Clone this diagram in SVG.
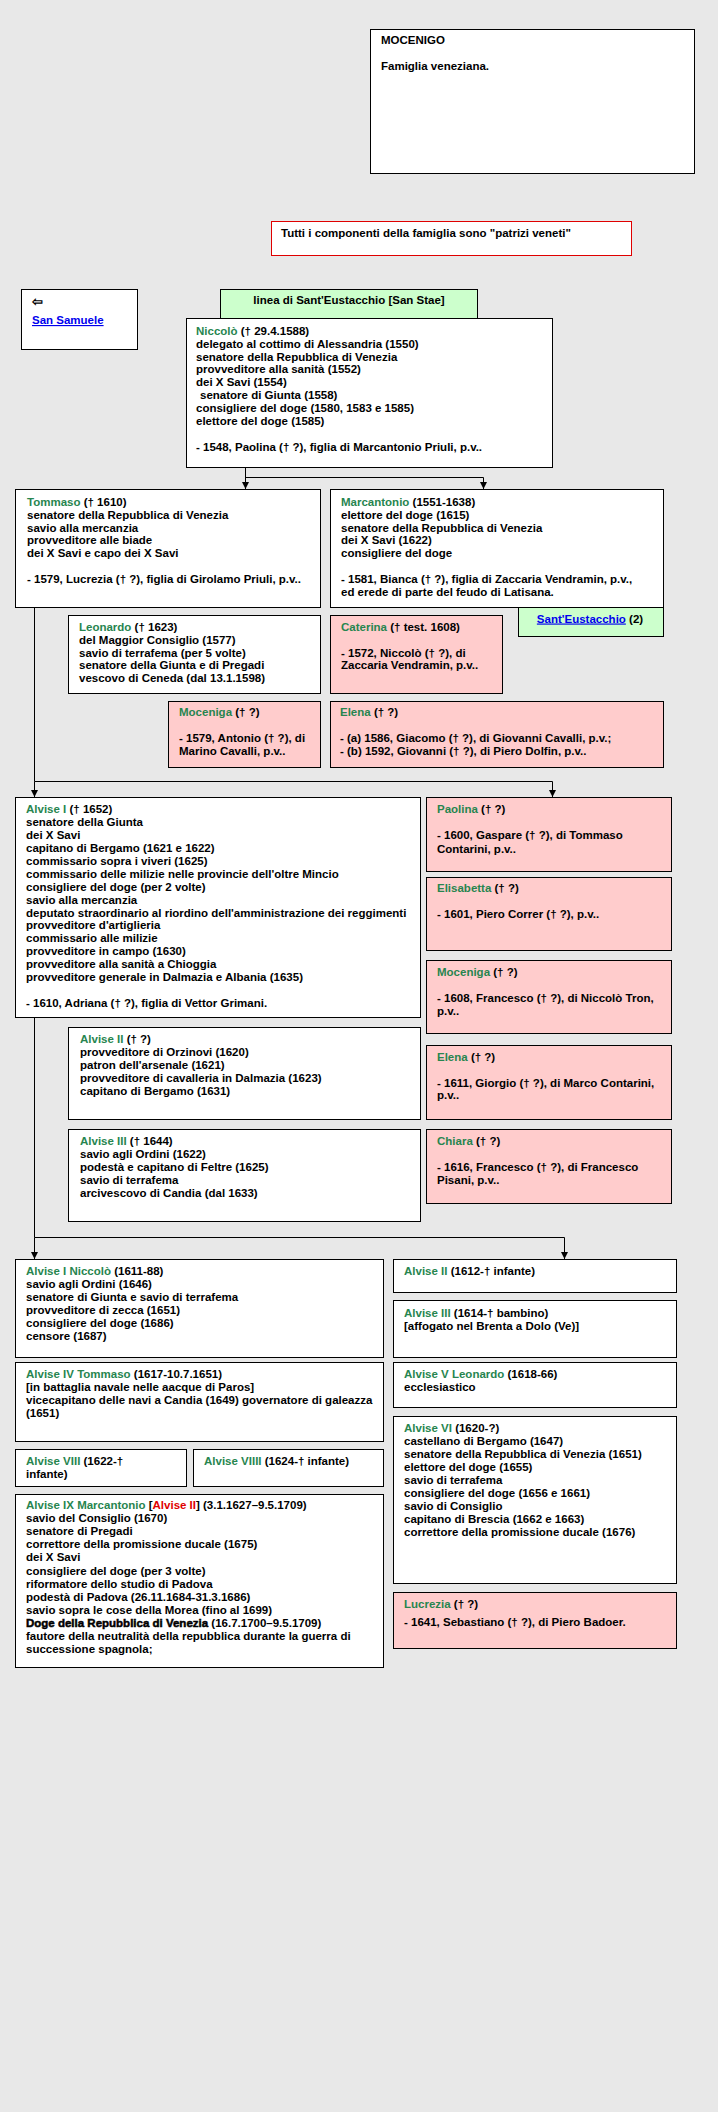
<svg xmlns="http://www.w3.org/2000/svg" width="718" height="2112" viewBox="0 0 718 2112">
<style>
.t{font-family:"Liberation Sans",Arial,sans-serif;font-weight:bold;font-size:11.5px;fill:#000}
.n{fill:#27854f}
.r{fill:#e00000}
.k{fill:#0000ee;text-decoration:underline}
.b{fill:#fff;stroke:#000;stroke-width:1}
.p{fill:#ffcccc;stroke:#000;stroke-width:1}
.g{fill:#ccffcc;stroke:#000;stroke-width:1}
.rb{fill:#fff;stroke:#e00000;stroke-width:1}
.c{fill:none;stroke:#000;stroke-width:1}
.a{fill:none;stroke:#000;stroke-width:1;marker-end:url(#ar)}
.hv{stroke:#000;stroke-width:0.5}
</style>
<defs>
<marker id="ar" viewBox="0 0 8 8" refX="8" refY="4" markerWidth="7" markerHeight="7" markerUnits="userSpaceOnUse" orient="auto">
<path d="M0,0 L8,4 L0,8 z" fill="#000"/>
</marker>
</defs>
<rect x="0" y="0" width="718" height="2112" fill="#e8e8e8"/>

<g id="connectors">
<path class="a" d="M245.5,467 V489"/>
<path class="c" d="M245.5,477.5 H483.5"/>
<path class="a" d="M483.5,477.5 V489"/>
<path class="c" d="M34.5,607 V781.5 H552.5"/>
<path class="a" d="M34.5,781.5 V797"/>
<path class="a" d="M552.5,781.5 V797"/>
<path class="c" d="M34.5,1017 V1237.5 H564.5"/>
<path class="a" d="M34.5,1237.5 V1259"/>
<path class="a" d="M564.5,1237.5 V1259"/>
</g>

<g id="mocenigo">
<rect class="b" x="370.5" y="29.5" width="324" height="144"/>
<text class="t" x="381" y="44">MOCENIGO</text>
<text class="t" x="381" y="70">Famiglia veneziana.</text>
</g>

<g id="nota">
<rect class="rb" x="271.5" y="221.5" width="360" height="34"/>
<text class="t" x="281" y="237">Tutti i componenti della famiglia sono "patrizi veneti"</text>
</g>

<g id="san-samuele">
<rect class="b" x="21.5" y="289.5" width="116" height="60"/>
<text class="t" x="32" y="306" style="font-size:13px">⇦</text>
<text class="t k" x="32" y="324">San Samuele</text>
</g>

<g id="linea">
<rect class="g" x="220.5" y="289.5" width="257" height="40"/>
<text class="t" x="349" y="304" text-anchor="middle">linea di Sant'Eustacchio [San Stae]</text>
</g>

<g id="niccolo">
<rect class="b" x="186.5" y="318.5" width="366" height="149"/>
<text class="t" x="196" y="334.7"><tspan class="n">Niccolò</tspan> († 29.4.1588)<tspan x="196" dy="12.9">delegato al cottimo di Alessandria (1550)</tspan><tspan x="196" dy="12.9">senatore della Repubblica di Venezia</tspan><tspan x="196" dy="12.9">provveditore alla sanità (1552)</tspan><tspan x="196" dy="12.9">dei X Savi (1554)</tspan><tspan x="200" dy="12.9">senatore di Giunta (1558)</tspan><tspan x="196" dy="12.9">consigliere del doge (1580, 1583 e 1585)</tspan><tspan x="196" dy="12.9">elettore del doge (1585)</tspan><tspan x="196" dy="25.8">- 1548, Paolina († ?), figlia di Marcantonio Priuli, p.v..</tspan></text>
</g>

<g id="sant-eustacchio-2">
<rect class="g" x="518.5" y="607.5" width="145" height="29"/>
<text class="t" x="590" y="622.5" text-anchor="middle"><tspan class="k">Sant'Eustacchio</tspan> (2)</text>
</g>

<g id="tommaso">
<rect class="b" x="15.5" y="489.5" width="305" height="118"/>
<text class="t" x="27" y="505.7"><tspan class="n">Tommaso</tspan> († 1610)<tspan x="27" dy="12.9">senatore della Repubblica di Venezia</tspan><tspan x="27" dy="12.9">savio alla mercanzia</tspan><tspan x="27" dy="12.9">provveditore alle biade</tspan><tspan x="27" dy="12.9">dei X Savi e capo dei X Savi</tspan><tspan x="27" dy="25.8">- 1579, Lucrezia († ?), figlia di Girolamo Priuli, p.v..</tspan></text>
</g>

<g id="marcantonio">
<rect class="b" x="330.5" y="489.5" width="333" height="118"/>
<text class="t" x="341" y="505.7"><tspan class="n">Marcantonio</tspan> (1551-1638)<tspan x="341" dy="12.9">elettore del doge (1615)</tspan><tspan x="341" dy="12.9">senatore della Repubblica di Venezia</tspan><tspan x="341" dy="12.9">dei X Savi (1622)</tspan><tspan x="341" dy="12.9">consigliere del doge</tspan><tspan x="341" dy="25.8">- 1581, Bianca († ?), figlia di Zaccaria Vendramin, p.v.,</tspan><tspan x="341" dy="12.9">ed erede di parte del feudo di Latisana.</tspan></text>
</g>

<g id="leonardo">
<rect class="b" x="68.5" y="615.5" width="252" height="78"/>
<text class="t" x="79" y="630.7"><tspan class="n">Leonardo</tspan> († 1623)<tspan x="79" dy="12.9">del Maggior Consiglio (1577)</tspan><tspan x="79" dy="12.9">savio di terrafema (per 5 volte)</tspan><tspan x="79" dy="12.9">senatore della Giunta e di Pregadi</tspan><tspan x="79" dy="12.9">vescovo di Ceneda (dal 13.1.1598)</tspan></text>
</g>

<g id="caterina">
<rect class="p" x="330.5" y="615.5" width="172" height="78"/>
<text class="t" x="341" y="630.7"><tspan class="n">Caterina</tspan> († test. 1608)<tspan x="341" dy="25.8">- 1572, Niccolò († ?), di</tspan><tspan x="341" dy="12.9">Zaccaria Vendramin, p.v..</tspan></text>
</g>

<g id="moceniga-1">
<rect class="p" x="168.5" y="701.5" width="152" height="66"/>
<text class="t" x="179" y="716"><tspan class="n">Moceniga</tspan> († ?)<tspan x="179" dy="25.8">- 1579, Antonio († ?), di</tspan><tspan x="179" dy="12.9">Marino Cavalli, p.v..</tspan></text>
</g>

<g id="elena-1">
<rect class="p" x="330.5" y="701.5" width="333" height="66"/>
<text class="t" x="340" y="716"><tspan class="n">Elena</tspan> († ?)<tspan x="340" dy="25.8">- (a) 1586, Giacomo († ?), di Giovanni Cavalli, p.v.;</tspan><tspan x="340" dy="12.9">- (b) 1592, Giovanni († ?), di Piero Dolfin, p.v..</tspan></text>
</g>

<g id="alvise-1">
<rect class="b" x="15.5" y="797.5" width="405" height="220"/>
<text class="t" x="26" y="813.3"><tspan class="n">Alvise I</tspan> († 1652)<tspan x="26" dy="12.9">senatore della Giunta</tspan><tspan x="26" dy="12.9">dei X Savi</tspan><tspan x="26" dy="12.9">capitano di Bergamo (1621 e 1622)</tspan><tspan x="26" dy="12.9">commissario sopra i viveri (1625)</tspan><tspan x="26" dy="12.9">commissario delle milizie nelle provincie dell'oltre Mincio</tspan><tspan x="26" dy="12.9">consigliere del doge (per 2 volte)</tspan><tspan x="26" dy="12.9">savio alla mercanzia</tspan><tspan x="26" dy="12.9">deputato straordinario al riordino dell'amministrazione dei reggimenti</tspan><tspan x="26" dy="12.9">provveditore d'artiglieria</tspan><tspan x="26" dy="12.9">commissario alle milizie</tspan><tspan x="26" dy="12.9">provveditore in campo (1630)</tspan><tspan x="26" dy="12.9">provveditore alla sanità a Chioggia</tspan><tspan x="26" dy="12.9">provveditore generale in Dalmazia e Albania (1635)</tspan><tspan x="26" dy="25.8">- 1610, Adriana († ?), figlia di Vettor Grimani.</tspan></text>
</g>

<g id="paolina">
<rect class="p" x="426.5" y="797.5" width="245" height="74"/>
<text class="t" x="437" y="813.3"><tspan class="n">Paolina</tspan> († ?)<tspan x="437" dy="25.8">- 1600, Gaspare († ?), di Tommaso</tspan><tspan x="437" dy="13.5">Contarini, p.v..</tspan></text>
</g>

<g id="elisabetta">
<rect class="p" x="426.5" y="877.5" width="245" height="73"/>
<text class="t" x="437" y="892.3"><tspan class="n">Elisabetta</tspan> († ?)<tspan x="437" dy="25.8">- 1601, Piero Correr († ?), p.v..</tspan></text>
</g>

<g id="moceniga-2">
<rect class="p" x="426.5" y="960.5" width="245" height="73"/>
<text class="t" x="437" y="976.3"><tspan class="n">Moceniga</tspan> († ?)<tspan x="437" dy="25.8">- 1608, Francesco († ?), di Niccolò Tron,</tspan><tspan x="437" dy="12.9">p.v..</tspan></text>
</g>

<g id="elena-2">
<rect class="p" x="426.5" y="1045.5" width="245" height="74"/>
<text class="t" x="437" y="1060.7"><tspan class="n">Elena</tspan> († ?)<tspan x="437" dy="25.8">- 1611, Giorgio († ?), di Marco Contarini,</tspan><tspan x="437" dy="12.9">p.v..</tspan></text>
</g>

<g id="chiara">
<rect class="p" x="426.5" y="1129.5" width="245" height="74"/>
<text class="t" x="437" y="1145"><tspan class="n">Chiara</tspan> († ?)<tspan x="437" dy="25.8">- 1616, Francesco († ?), di Francesco</tspan><tspan x="437" dy="12.9">Pisani, p.v..</tspan></text>
</g>

<g id="alvise-2">
<rect class="b" x="68.5" y="1027.5" width="352" height="92"/>
<text class="t" x="80" y="1043.3"><tspan class="n">Alvise II</tspan> († ?)<tspan x="80" dy="12.9">provveditore di Orzinovi (1620)</tspan><tspan x="80" dy="12.9">patron dell'arsenale (1621)</tspan><tspan x="80" dy="12.9">provveditore di cavalleria in Dalmazia (1623)</tspan><tspan x="80" dy="12.9">capitano di Bergamo (1631)</tspan></text>
</g>

<g id="alvise-3">
<rect class="b" x="68.5" y="1129.5" width="352" height="92"/>
<text class="t" x="80" y="1145"><tspan class="n">Alvise III</tspan> († 1644)<tspan x="80" dy="12.9">savio agli Ordini (1622)</tspan><tspan x="80" dy="12.9">podestà e capitano di Feltre (1625)</tspan><tspan x="80" dy="12.9">savio di terrafema</tspan><tspan x="80" dy="12.9">arcivescovo di Candia (dal 1633)</tspan></text>
</g>

<g id="alvise-1-niccolo">
<rect class="b" x="15.5" y="1259.5" width="368" height="98"/>
<text class="t" x="26" y="1275"><tspan class="n">Alvise I Niccolò</tspan> (1611-88)<tspan x="26" dy="12.9">savio agli Ordini (1646)</tspan><tspan x="26" dy="12.9">senatore di Giunta e savio di terrafema</tspan><tspan x="26" dy="12.9">provveditore di zecca (1651)</tspan><tspan x="26" dy="12.9">consigliere del doge (1686)</tspan><tspan x="26" dy="12.9">censore (1687)</tspan></text>
</g>

<g id="alvise-4-tommaso">
<rect class="b" x="15.5" y="1362.5" width="368" height="79"/>
<text class="t" x="26" y="1378"><tspan class="n">Alvise IV Tommaso</tspan> (1617-10.7.1651)<tspan x="26" dy="12.9">[in battaglia navale nelle aacque di Paros]</tspan><tspan x="26" dy="12.9">vicecapitano delle navi a Candia (1649) governatore di galeazza</tspan><tspan x="26" dy="12.9">(1651)</tspan></text>
</g>

<g id="alvise-8">
<rect class="b" x="15.5" y="1449.5" width="171" height="37"/>
<text class="t" x="26" y="1464.7"><tspan class="n">Alvise VIII</tspan> (1622-†<tspan x="26" dy="12.9">infante)</tspan></text>
</g>

<g id="alvise-9i">
<rect class="b" x="193.5" y="1449.5" width="190" height="37"/>
<text class="t" x="204" y="1464.7"><tspan class="n">Alvise VIIII</tspan> (1624-† infante)</text>
</g>

<g id="alvise-9-marcantonio">
<rect class="b" x="15.5" y="1494.5" width="368" height="173"/>
<text class="t" x="26" y="1509"><tspan class="n">Alvise IX Marcantonio</tspan> [<tspan class="r">Alvise II</tspan>] (3.1.1627–9.5.1709)<tspan x="26" dy="13.1">savio del Consiglio (1670)</tspan><tspan x="26" dy="13.1">senatore di Pregadi</tspan><tspan x="26" dy="13.1">correttore della promissione ducale (1675)</tspan><tspan x="26" dy="13.1">dei X Savi</tspan><tspan x="26" dy="13.1">consigliere del doge (per 3 volte)</tspan><tspan x="26" dy="13.1">riformatore dello studio di Padova</tspan><tspan x="26" dy="13.1">podestà di Padova (26.11.1684-31.3.1686)</tspan><tspan x="26" dy="13.1">savio sopra le cose della Morea (fino al 1699)</tspan><tspan x="26" dy="13.1" class="hv">Doge della Repubblica di Venezia</tspan> (16.7.1700–9.5.1709)<tspan x="26" dy="13.1">fautore della neutralità della repubblica durante la guerra di</tspan><tspan x="26" dy="13.1">successione spagnola;</tspan></text>
</g>

<g id="alvise-2-r">
<rect class="b" x="393.5" y="1259.5" width="283" height="33"/>
<text class="t" x="404" y="1275"><tspan class="n">Alvise II</tspan> (1612-† infante)</text>
</g>

<g id="alvise-3-r">
<rect class="b" x="393.5" y="1300.5" width="283" height="57"/>
<text class="t" x="404" y="1316.7"><tspan class="n">Alvise III</tspan> (1614-† bambino)<tspan x="404" dy="12.9">[affogato nel Brenta a Dolo (Ve)]</tspan></text>
</g>

<g id="alvise-5-leonardo">
<rect class="b" x="393.5" y="1362.5" width="283" height="45"/>
<text class="t" x="404" y="1378.3"><tspan class="n">Alvise V Leonardo</tspan> (1618-66)<tspan x="404" dy="12.9">ecclesiastico</tspan></text>
</g>

<g id="alvise-6">
<rect class="b" x="393.5" y="1416.5" width="283" height="167"/>
<text class="t" x="404" y="1432.3"><tspan class="n">Alvise VI</tspan> (1620-?)<tspan x="404" dy="12.9">castellano di Bergamo (1647)</tspan><tspan x="404" dy="12.9">senatore della Repubblica di Venezia (1651)</tspan><tspan x="404" dy="12.9">elettore del doge (1655)</tspan><tspan x="404" dy="12.9">savio di terrafema</tspan><tspan x="404" dy="12.9">consigliere del doge (1656 e 1661)</tspan><tspan x="404" dy="12.9">savio di Consiglio</tspan><tspan x="404" dy="12.9">capitano di Brescia (1662 e 1663)</tspan><tspan x="404" dy="12.9">correttore della promissione ducale (1676)</tspan></text>
</g>

<g id="lucrezia">
<rect class="p" x="393.5" y="1592.5" width="283" height="56"/>
<text class="t" x="404" y="1608"><tspan class="n">Lucrezia</tspan> († ?)<tspan x="404" dy="18.3">- 1641, Sebastiano († ?), di Piero Badoer.</tspan></text>
</g>
</svg>
